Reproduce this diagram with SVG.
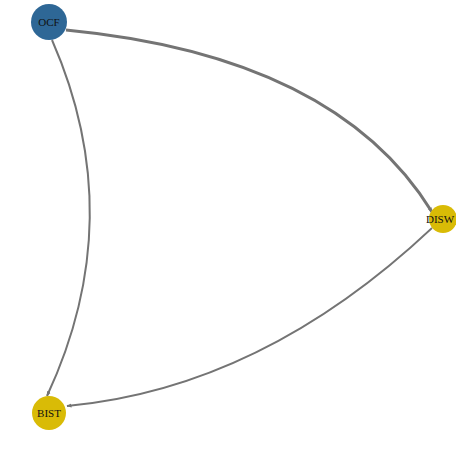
<svg xmlns="http://www.w3.org/2000/svg" width="456" height="450" viewBox="0 0 456 450">
  <style>
    .edge { fill: none; stroke: #747474; }
    .label { font-family: "Liberation Serif", "Times New Roman", serif; font-size: 11px; fill: #111111; text-anchor: middle; dominant-baseline: central; }
  </style>
  <defs>
    <marker id="arrow" viewBox="0 0 10 10" refX="9" refY="5" markerWidth="5" markerHeight="5" orient="auto" markerUnits="userSpaceOnUse">
      <path d="M0,1 L10,5 L0,9 Z" fill="#747474"/>
    </marker>
  </defs>
  <rect width="456" height="450" fill="#ffffff"/>
  <g id="connectors">
    <path class="edge" stroke-width="3" d="M66,30 Q336,56 432,212" marker-end="url(#arrow)"/>
    <path class="edge" stroke-width="2" d="M52,40 Q130,218 47,396" marker-end="url(#arrow)"/>
    <path class="edge" stroke-width="1.8" d="M432,228 Q262,388 67,406" marker-end="url(#arrow)"/>
  </g>
  <g id="node-OCF">
    <circle cx="49" cy="22" r="18" fill="#2e6796"/>
    <text class="label" x="49" y="22">OCF</text>
  </g>
  <g id="node-DISW">
    <circle cx="443" cy="219" r="14" fill="#d9bb06"/>
    <text class="label" x="440" y="219">DISW</text>
  </g>
  <g id="node-BIST">
    <circle cx="49" cy="413" r="17" fill="#d9bb06"/>
    <text class="label" x="49" y="413">BIST</text>
  </g>
</svg>
